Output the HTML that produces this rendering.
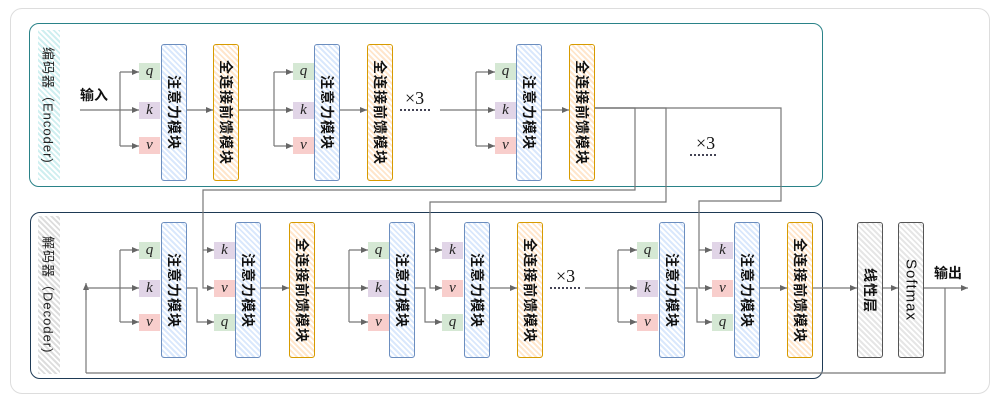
<!DOCTYPE html>
<html><head><meta charset="utf-8"><style>
body{margin:0;background:#fff;}
#c{position:relative;width:1002px;height:400px;overflow:hidden;font-family:"Liberation Sans","Noto Sans CJK SC",sans-serif;}
.a{position:absolute;box-sizing:border-box;}
.blk{border-radius:3px;display:flex;align-items:center;justify-content:center;}
.blk span,.side span{writing-mode:vertical-rl;text-orientation:sideways;white-space:nowrap;font-size:14px;font-weight:bold;color:#111;letter-spacing:1px;}
.att{border:1.5px solid #6c8ebf;background:repeating-linear-gradient(45deg,#dae8fc 0 2px,#fff 2px 4px);}
.ffn{border:1.5px solid #d79b00;background:repeating-linear-gradient(45deg,#ffe6cc 0 2px,#fff 2px 4px);}
.gry{border:1.5px solid #555;background:repeating-linear-gradient(45deg,#e6e6e6 0 2px,#fff 2px 4px);}
.lb{width:21px;height:17px;font-family:"Liberation Serif",serif;font-style:italic;font-size:15px;display:flex;align-items:center;justify-content:center;color:#222;}
.q{background:#d5e8d4}.k{background:#e1d5e7}.v{background:#f8cecc}
.side{display:flex;align-items:center;justify-content:center;}
.side span{font-size:13px;font-weight:normal;color:#222;}
</style></head><body><div id="c">
<div class="a" style="left:10px;top:8px;width:980px;height:386px;border:1px solid #ddd;border-radius:12px;"></div>
<div class="a" style="left:29px;top:23px;width:794px;height:164px;border:1.5px solid #2a8288;border-radius:10px;"></div>
<div class="a" style="left:30px;top:212px;width:793px;height:167px;border:1.5px solid #1e3a55;border-radius:10px;"></div>
<div class="a side" style="left:38px;top:30px;width:22px;height:150px;background:repeating-linear-gradient(45deg,#cfeff0 0 2px,#fff 2px 4px);"><span>编码器（Encoder)</span></div>
<div class="a side" style="left:38px;top:216px;width:22px;height:158px;background:repeating-linear-gradient(45deg,#ddd 0 2px,#fff 2px 4px);"><span>解码器（Decoder)</span></div>
<svg class="a" style="left:0;top:0" width="1002" height="400">
<defs><marker id="m" markerWidth="8" markerHeight="8" refX="7" refY="4" orient="auto" markerUnits="userSpaceOnUse"><path d="M0,1 L7,4 L0,7 z" fill="#666"/></marker></defs>
<g stroke="#777" stroke-width="1.2" fill="none">
<path d="M80,110 H139" marker-end="url(#m)"/>
<path d="M120,72 V146"/><path d="M120,72 H139" marker-end="url(#m)"/><path d="M120,146 H139" marker-end="url(#m)"/>
<path d="M186,110 H213" marker-end="url(#m)"/>
<path d="M239,110 H293" marker-end="url(#m)"/>
<path d="M274,72 V146"/><path d="M274,72 H293" marker-end="url(#m)"/><path d="M274,146 H293" marker-end="url(#m)"/>
<path d="M340,110 H367" marker-end="url(#m)"/>
<path d="M440,110 H495" marker-end="url(#m)"/>
<path d="M476,72 V146"/><path d="M476,72 H495" marker-end="url(#m)"/><path d="M476,146 H495" marker-end="url(#m)"/>
<path d="M542,110 H569" marker-end="url(#m)"/>
<path d="M595,108 H635 V190 H203 V250"/><path d="M203,250 H214" marker-end="url(#m)"/><path d="M203,250 V288 H214" marker-end="url(#m)"/>
<path d="M595,108 H666 V202 H430 V250 H442" marker-end="url(#m)"/><path d="M430,250 V288 H442" marker-end="url(#m)"/>
<path d="M595,108 H781 V201 H699 V250 H712" marker-end="url(#m)"/><path d="M699,250 V288 H712" marker-end="url(#m)"/>
<path d="M86,373 V290"/><path d="M86,300 V283" marker-end="url(#m)"/>
<path d="M86,288 H139" marker-end="url(#m)"/>
<path d="M120,250 V322"/><path d="M120,250 H139" marker-end="url(#m)"/><path d="M120,322 H139" marker-end="url(#m)"/>
<path d="M186,288 H197 V322 H214" marker-end="url(#m)"/>
<path d="M261,288 H289" marker-end="url(#m)"/>
<path d="M314,288 H368" marker-end="url(#m)"/>
<path d="M349,250 V322"/><path d="M349,250 H368" marker-end="url(#m)"/><path d="M349,322 H368" marker-end="url(#m)"/>
<path d="M415,288 H425 V322 H442" marker-end="url(#m)"/>
<path d="M490,288 H517" marker-end="url(#m)"/>
<path d="M585,288 H637" marker-end="url(#m)"/>
<path d="M618,250 V322"/><path d="M618,250 H637" marker-end="url(#m)"/><path d="M618,322 H637" marker-end="url(#m)"/>
<path d="M685,288 H697 V322 H712" marker-end="url(#m)"/>
<path d="M759,288 H787" marker-end="url(#m)"/>
<path d="M812,288 H857" marker-end="url(#m)"/>
<path d="M882,288 H898" marker-end="url(#m)"/>
<path d="M923,288 H968" marker-end="url(#m)"/>
<path d="M945,288 V373 H86"/>
</g>
<g stroke="#445" stroke-width="2" stroke-dasharray="2,2">
<path d="M400,110 H430"/><path d="M690,155 H718"/><path d="M550,288 H580"/>
</g>
<g font-family="Liberation Serif,serif" font-size="18" fill="#111">
<text x="405" y="104">×3</text><text x="696" y="149">×3</text><text x="556" y="282">×3</text>
</g>
<g font-family="Liberation Sans,Noto Sans CJK SC,sans-serif" font-size="14" font-weight="bold" fill="#111">
<text x="80" y="100">输入</text><text x="934" y="278">输出</text>
</g>
</svg>
<div class="a lb q" style="left:139px;top:63px">q</div><div class="a lb k" style="left:139px;top:102px">k</div><div class="a lb v" style="left:139px;top:137px">v</div>
<div class="a blk att" style="left:161px;top:44px;width:26px;height:137px"><span>注意力模块</span></div>
<div class="a blk ffn" style="left:213px;top:44px;width:26px;height:137px"><span>全连接前馈模块</span></div>
<div class="a lb q" style="left:293px;top:63px">q</div><div class="a lb k" style="left:293px;top:102px">k</div><div class="a lb v" style="left:293px;top:137px">v</div>
<div class="a blk att" style="left:314px;top:44px;width:26px;height:137px"><span>注意力模块</span></div>
<div class="a blk ffn" style="left:367px;top:44px;width:26px;height:137px"><span>全连接前馈模块</span></div>
<div class="a lb q" style="left:495px;top:63px">q</div><div class="a lb k" style="left:495px;top:102px">k</div><div class="a lb v" style="left:495px;top:137px">v</div>
<div class="a blk att" style="left:516px;top:44px;width:26px;height:137px"><span>注意力模块</span></div>
<div class="a blk ffn" style="left:569px;top:44px;width:26px;height:137px"><span>全连接前馈模块</span></div>
<div class="a lb q" style="left:139px;top:242px">q</div><div class="a lb k" style="left:139px;top:280px">k</div><div class="a lb v" style="left:139px;top:314px">v</div>
<div class="a blk att" style="left:161px;top:222px;width:26px;height:136px"><span>注意力模块</span></div>
<div class="a lb k" style="left:214px;top:242px">k</div><div class="a lb v" style="left:214px;top:280px">v</div><div class="a lb q" style="left:214px;top:314px">q</div>
<div class="a blk att" style="left:235px;top:222px;width:26px;height:136px"><span>注意力模块</span></div>
<div class="a blk ffn" style="left:289px;top:222px;width:26px;height:136px"><span>全连接前馈模块</span></div>
<div class="a lb q" style="left:368px;top:242px">q</div><div class="a lb k" style="left:368px;top:280px">k</div><div class="a lb v" style="left:368px;top:314px">v</div>
<div class="a blk att" style="left:389px;top:222px;width:26px;height:136px"><span>注意力模块</span></div>
<div class="a lb k" style="left:442px;top:242px">k</div><div class="a lb v" style="left:442px;top:280px">v</div><div class="a lb q" style="left:442px;top:314px">q</div>
<div class="a blk att" style="left:464px;top:222px;width:26px;height:136px"><span>注意力模块</span></div>
<div class="a blk ffn" style="left:517px;top:222px;width:26px;height:136px"><span>全连接前馈模块</span></div>
<div class="a lb q" style="left:637px;top:242px">q</div><div class="a lb k" style="left:637px;top:280px">k</div><div class="a lb v" style="left:637px;top:314px">v</div>
<div class="a blk att" style="left:659px;top:222px;width:26px;height:136px"><span>注意力模块</span></div>
<div class="a lb k" style="left:712px;top:242px">k</div><div class="a lb v" style="left:712px;top:280px">v</div><div class="a lb q" style="left:712px;top:314px">q</div>
<div class="a blk att" style="left:734px;top:222px;width:26px;height:136px"><span>注意力模块</span></div>
<div class="a blk ffn" style="left:787px;top:222px;width:26px;height:136px"><span>全连接前馈模块</span></div>
<div class="a blk gry" style="left:857px;top:222px;width:26px;height:136px"><span>线性层</span></div>
<div class="a blk gry" style="left:898px;top:222px;width:26px;height:136px"><span style="font-weight:normal;font-size:15px">Softmax</span></div>
</div></body></html>
